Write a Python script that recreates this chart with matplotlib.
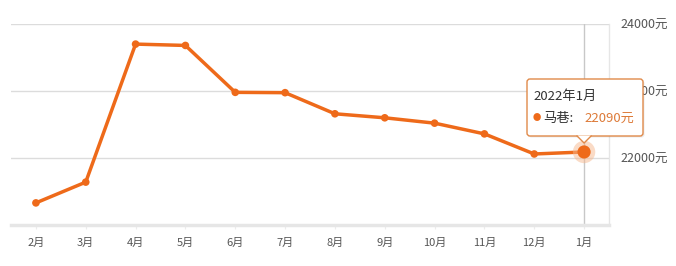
import matplotlib
matplotlib.use("Agg")
import matplotlib.pyplot as plt
from matplotlib.patches import FancyBboxPatch, Polygon
import numpy as np

plt.rcParams['font.family'] = ['Noto Sans CJK SC', 'DejaVu Sans']

months = ["2月", "3月", "4月", "5月", "6月", "7月", "8月", "9月", "10月", "11月", "12月", "1月"]
prices = [21330, 21640, 23700, 23680, 22980, 22975, 22660, 22600, 22520, 22360, 22060, 22090]
y_ticks = [22000, 23000, 24000]
y_tick_labels = ["22000元", "23000元", "24000元"]
tooltip_title = "2022年1月"
tooltip_name = "马巷:"
tooltip_value = "22090元"

W, H = 676, 266
fig = plt.figure(figsize=(W / 100, H / 100), dpi=100)
ax = fig.add_axes([11 / W, 1 - 225 / H, (609 - 11) / W, (225 - 24) / H])

line_color = "#ee6a1a"
grid_color = "#dcdcdc"
x = np.arange(len(months))

ax.set_xlim(-0.5, len(months) - 0.5)
ax.set_ylim(21000, 24000)

for yt in y_ticks:
    ax.axhline(yt, color=grid_color, lw=1, zorder=1)

ax.plot(x, prices, color=line_color, lw=2.5, zorder=3, solid_capstyle="round")
ax.scatter(x[:-1], prices[:-1], s=30, color=line_color, zorder=4, edgecolors="none")
# highlighted last point
ax.axvline(x[-1], color="#c8c8c8", lw=1, zorder=2)
ax.scatter([x[-1]], [prices[-1]], s=260, color="#f6b88e", alpha=0.5, zorder=4, edgecolors="none")
ax.scatter([x[-1]], [prices[-1]], s=90, color=line_color, zorder=5, edgecolors="none")

for s in ["top", "left"]:
    ax.spines[s].set_visible(False)
ax.spines["right"].set_color("#e6e6e6")
ax.spines["right"].set_linewidth(1)
ax.spines["bottom"].set_color("#e6e6e6")
ax.spines["bottom"].set_linewidth(2.5)

ax.set_xticks(x)
ax.set_xticklabels(months, fontsize=8, color="#555555")
ax.tick_params(axis="x", length=3, color="#ececec", pad=6)
ax.yaxis.tick_right()
ax.set_yticks(y_ticks)
ax.set_yticklabels(y_tick_labels, fontsize=9, color="#555555")
ax.tick_params(axis="y", length=0, pad=8)

# tooltip
fig.canvas.draw()
px, py = ax.transData.transform((x[-1], prices[-1]))
bx0, by0, bx1, by1 = 527, H - 136, 643, H - 79
shadow = FancyBboxPatch((bx0 + 1.5, by0 - 1.5), bx1 - bx0, by1 - by0,
                        boxstyle="round,pad=0,rounding_size=3", transform=None,
                        facecolor="#000000", alpha=0.08, edgecolor="none", zorder=9)
fig.patches.append(shadow)
box = FancyBboxPatch((bx0, by0), bx1 - bx0, by1 - by0,
                     boxstyle="round,pad=0,rounding_size=3", transform=None,
                     facecolor="white", edgecolor="#e08a4a", lw=1, zorder=10)
fig.patches.append(box)
tri = Polygon([[px - 7, by0 + 0.5], [px + 7, by0 + 0.5], [px, by0 - 7]], closed=True,
              transform=None, facecolor="white", edgecolor="none", zorder=11)
fig.patches.append(tri)
fig.lines.append(matplotlib.lines.Line2D([px - 7, px, px + 7], [by0, by0 - 7, by0],
                                         transform=None, color="#e08a4a", lw=1, zorder=12))
fig.text(533 / W, 1 - 96 / H, tooltip_title, fontsize=9.5, color="#333333",
         va="center", ha="left", zorder=13)
fig.text(537 / W, 1 - 118 / H, "●", fontsize=6, color=line_color,
         va="center", ha="center", zorder=13)
fig.text(543 / W, 1 - 118 / H, tooltip_name, fontsize=9.5, color="#333333",
         va="center", ha="left", zorder=13)
fig.text(584 / W, 1 - 118 / H, tooltip_value, fontsize=9.5, color="#dd7a38",
         va="center", ha="left", zorder=13)

fig.savefig("out.png", dpi=100)
